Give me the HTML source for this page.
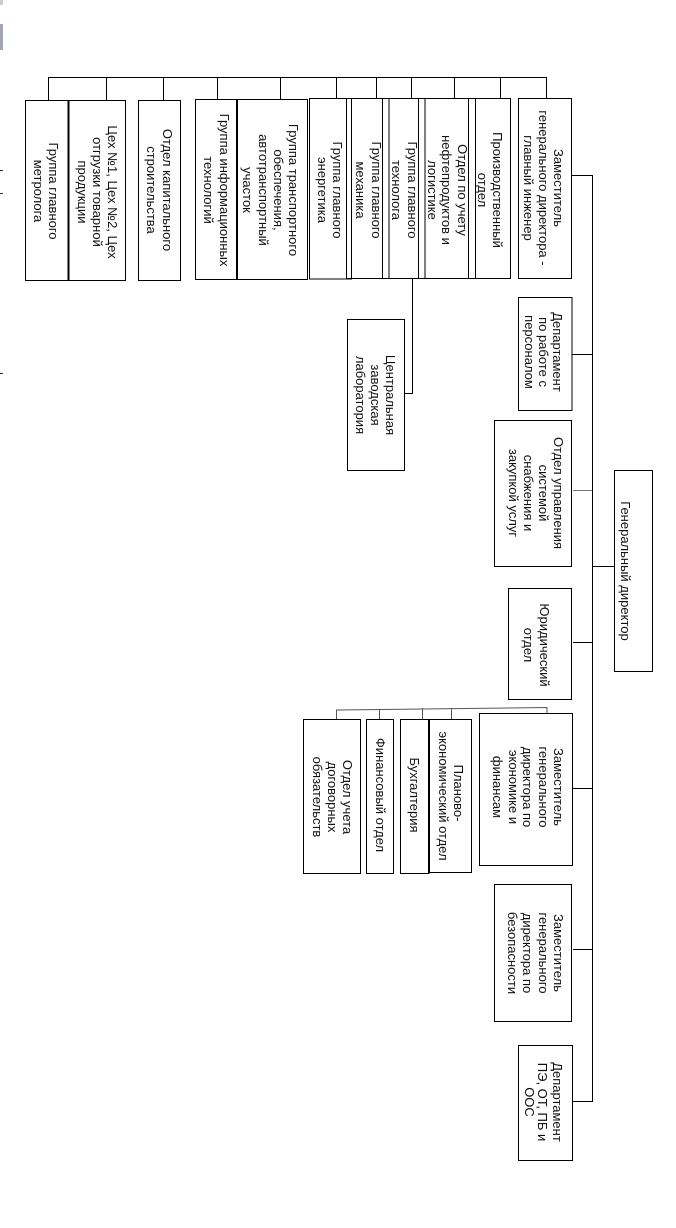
<!DOCTYPE html>
<html><head><meta charset="utf-8"><style>
html,body{margin:0;padding:0;background:#fff;width:676px;height:1228px;overflow:hidden}
svg{display:block}
text{font-family:"Liberation Sans",sans-serif;font-size:13px;fill:#111;text-anchor:middle}
</style></head><body>
<svg width="676" height="1228" viewBox="0 0 676 1228" xmlns="http://www.w3.org/2000/svg">
<rect x="0" y="24" width="3" height="26" fill="#a4a6b2"/>
<rect x="0" y="0" width="3" height="5" fill="#ccc"/>
<path d="M0 170.500H3M0 193.500H3M0 373.500H3" stroke="#333" fill="none"/>
<g fill="none" stroke="#000" stroke-width="1">
<path d="M48 77.500H546.500V98M48.500 77V100M106.500 77V100M163.500 77V100M217.500 77V99M280.500 77V99M336.500 77V98M376.500 77V98M411.500 77V98M454.500 77V98M500.500 77V98"/>
<path d="M571 175.500H592.500M592.500 175V1101.500H573M572 354.500H592M573 642.500H592M614 566.500H592M572 788.500H592M573 949.500H592"/>
<path d="M573 490.500H592" stroke="#777"/>
<path d="M412.500 278V393.500H404"/>
<path d="M336.500 719V710L547 707.500V713M379.500 709V719M422.500 708V719M451.500 708V719" stroke="#555"/>
<rect x="25.500" y="100.500" width="43" height="180"/>
<rect x="68.500" y="100.500" width="57" height="180"/>
<path d="M68.500 100V280" stroke-width="2"/>
<rect x="138.500" y="100.500" width="42" height="180"/>
<rect x="195.500" y="99.500" width="41" height="180"/>
<rect x="237.500" y="99.500" width="70" height="180"/>
<rect x="309.500" y="98.500" width="42" height="180.500"/>
<rect x="346.500" y="98.500" width="42.500" height="180"/>
<rect x="382.500" y="98.500" width="42.500" height="180"/>
<rect x="418.500" y="98.500" width="57" height="180"/>
<rect x="468.500" y="98.500" width="42" height="180"/>
<rect x="518.500" y="98.500" width="53" height="180"/>
<rect x="347.500" y="319.500" width="57" height="151"/>
<rect x="518.500" y="297.500" width="53.500" height="113"/>
<rect x="494.500" y="420.500" width="77" height="146"/>
<rect x="508.500" y="588.500" width="63" height="111"/>
<rect x="614.500" y="470.500" width="38" height="201"/>
<rect x="479.500" y="713.500" width="93" height="152"/>
<rect x="429.500" y="719.500" width="42" height="153"/>
<rect x="400.500" y="719.500" width="28.500" height="154"/>
<path d="M429 719V873" stroke-width="2"/>
<rect x="366.500" y="719.500" width="27" height="154"/>
<rect x="303.500" y="719.500" width="57" height="154"/>
<rect x="494.500" y="884.500" width="77" height="137"/>
<rect x="518.500" y="1045.500" width="54" height="115"/>
</g>
<text transform="translate(49,191) rotate(90)">Группа главного</text>
<text transform="translate(34,191) rotate(90)">метролога</text>
<text transform="translate(108,192) rotate(90)">Цех №1, Цех №2, Цех</text>
<text transform="translate(93,192) rotate(90)">отгрузки товарной</text>
<text transform="translate(78,192) rotate(90)">продукции</text>
<text transform="translate(163,190) rotate(90)">Отдел капитального</text>
<text transform="translate(147,190) rotate(90)">строительства</text>
<text transform="translate(220,190) rotate(90)">Группа информационных</text>
<text transform="translate(204,190) rotate(90)">технологий</text>
<text transform="translate(289,190) rotate(90)">Группа транспортного</text>
<text transform="translate(274,190) rotate(90)">обеспечения,</text>
<text transform="translate(259,190) rotate(90)">автотранспортный</text>
<text transform="translate(243,190) rotate(90)">участок</text>
<text transform="translate(333,190) rotate(90)">Группа главного</text>
<text transform="translate(318,190) rotate(90)">энергетика</text>
<text transform="translate(372,190) rotate(90)">Группа главного</text>
<text transform="translate(356,190) rotate(90)">механика</text>
<text transform="translate(408,190) rotate(90)">Группа главного</text>
<text transform="translate(392,190) rotate(90)">технолога</text>
<text transform="translate(458,190) rotate(90)">Отдел по учету</text>
<text transform="translate(442,190) rotate(90)">нефтепродуктов и</text>
<text transform="translate(428,190) rotate(90)">логистике</text>
<text transform="translate(493,190) rotate(90)">Производственный</text>
<text transform="translate(478,190) rotate(90)">отдел</text>
<text transform="translate(554,188) rotate(90)">Заместитель</text>
<text transform="translate(539,188) rotate(90)">генерального директора -</text>
<text transform="translate(524,188) rotate(90)">главный инженер</text>
<text transform="translate(386,395) rotate(90)">Центральная</text>
<text transform="translate(371,395) rotate(90)">заводская</text>
<text transform="translate(356,395) rotate(90)">лаборатория</text>
<text transform="translate(553,352) rotate(90)">Департамент</text>
<text transform="translate(539,352) rotate(90)">по работе с</text>
<text transform="translate(525,352) rotate(90)">персоналом</text>
<text transform="translate(554,493) rotate(90)">Отдел управления</text>
<text transform="translate(539,493) rotate(90)">системой</text>
<text transform="translate(524,493) rotate(90)">снабжения и</text>
<text transform="translate(509,493) rotate(90)">закупкой услуг</text>
<text transform="translate(540,645) rotate(90)">Юридический</text>
<text transform="translate(524,645) rotate(90)">отдел</text>
<text transform="translate(621,571) rotate(90)">Генеральный директор</text>
<text transform="translate(554,787) rotate(90)">Заместитель</text>
<text transform="translate(539,787) rotate(90)">генерального</text>
<text transform="translate(523,787) rotate(90)">директора по</text>
<text transform="translate(509,787) rotate(90)">экономике и</text>
<text transform="translate(493,787) rotate(90)">финансам</text>
<text transform="translate(454,793) rotate(90)">Планово-</text>
<text transform="translate(439,796) rotate(90)">экономический отдел</text>
<text transform="translate(410,795) rotate(90)">Бухгалтерия</text>
<text transform="translate(376,795) rotate(90)">Финансовый отдел</text>
<text transform="translate(343,797) rotate(90)">Отдел учета</text>
<text transform="translate(328,797) rotate(90)">договорных</text>
<text transform="translate(313,797) rotate(90)">обязательств</text>
<text transform="translate(554,953) rotate(90)">Заместитель</text>
<text transform="translate(539,953) rotate(90)">генерального</text>
<text transform="translate(523,953) rotate(90)">директора по</text>
<text transform="translate(508,953) rotate(90)">безопасности</text>
<text transform="translate(553,1102) rotate(90)">Департамент</text>
<text transform="translate(538,1102) rotate(90)">ПЭ, ОТ, ПБ и</text>
<text transform="translate(525,1102) rotate(90)">ООС</text>
</svg>
</body></html>
